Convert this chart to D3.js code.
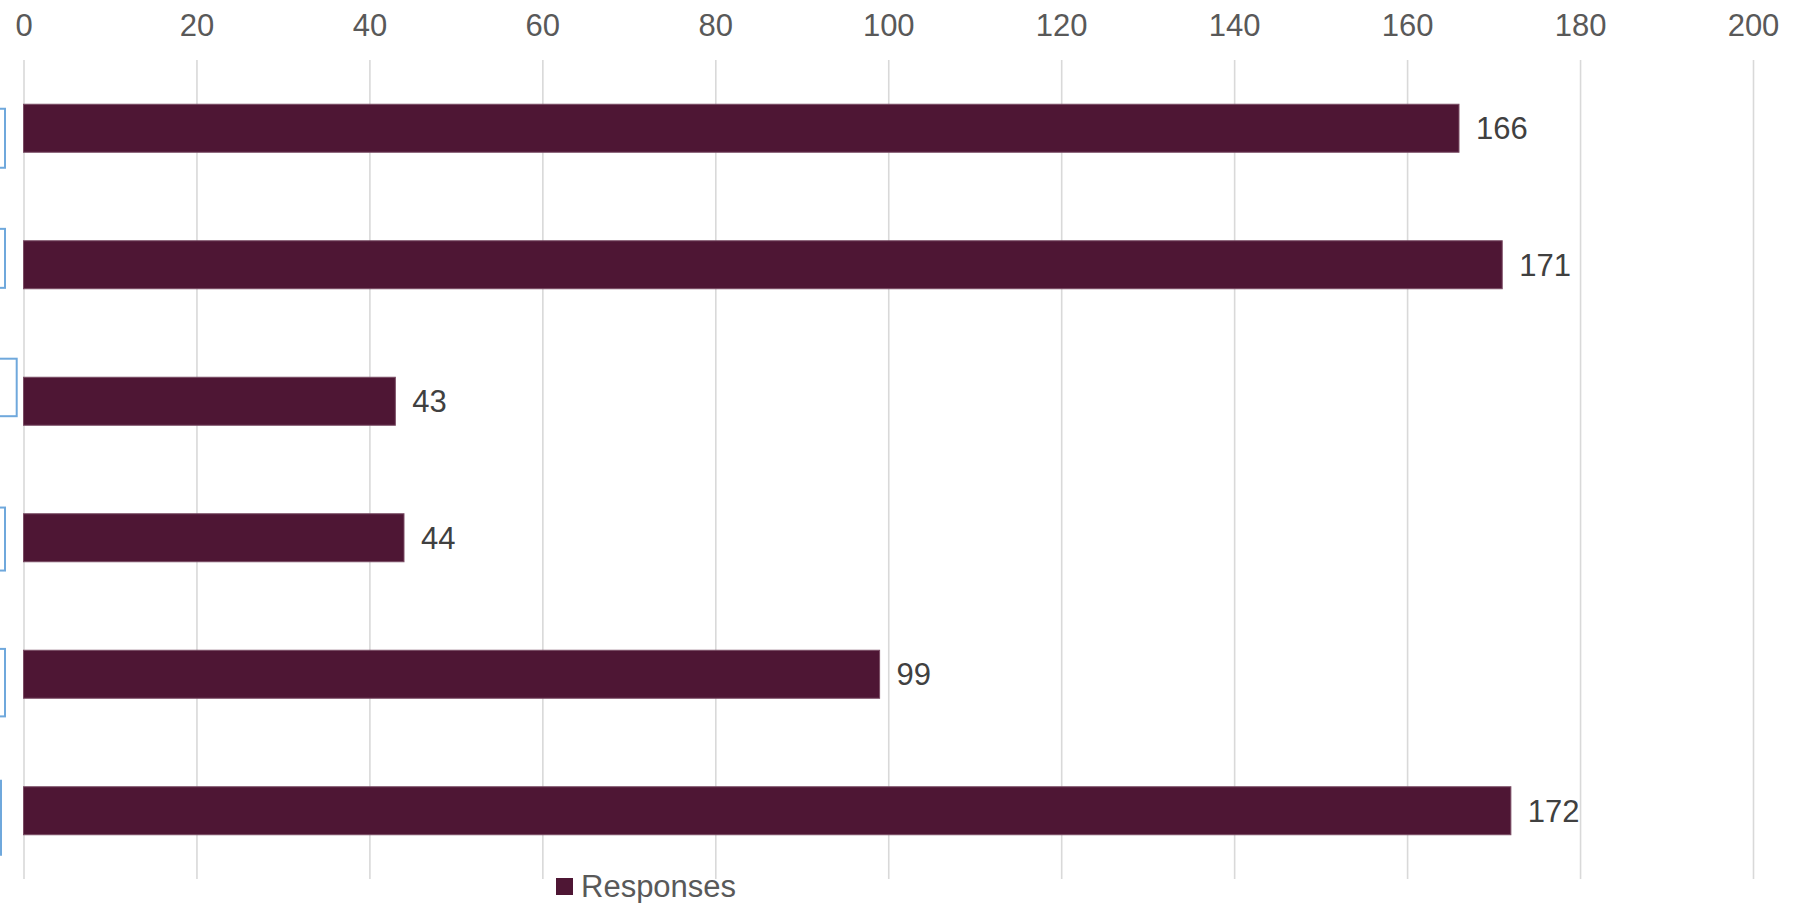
<!DOCTYPE html>
<html>
<head>
<meta charset="utf-8">
<script src="https://cdn.jsdelivr.net/npm/d3@7"></script>
<style>
  html, body { margin: 0; padding: 0; background: #ffffff; }
  svg { display: block; }
  text { font-family: "Liberation Sans", Arial, Helvetica, sans-serif; }
</style>
</head>
<body>
<svg id="chart" width="1809" height="903"></svg>
<script>
// ---- data ----
const categories = ["c1", "c2", "c3", "c4", "c5", "c6"];
const responses = [166, 171, 43, 44, 99, 172];
const tickValues = [0, 20, 40, 60, 80, 100, 120, 140, 160, 180, 200];
const seriesName = "Responses";
// category label boxes are clipped at the left edge in the reference (text not visible)
const labelBoxRight = [5, 5, 16.7, 5, 5, 1];
const labelBoxHeight = [59, 59, 57.5, 63, 67.5, 74];
const labelBoxShift = [10, -6.4, -13.8, 1.3, 8.4, 7];

const svg = d3.select("#chart");
const plotTop = 60, plotBottom = 879;

const x = d3.scaleLinear().domain([0, 200]).range([23.5, 1753]);
const y = d3.scaleBand().domain(categories).range([plotTop, plotBottom])
  .paddingInner(0.6484).paddingOuter(0.3242).align(0.5);

// axis with gridlines
const axis = d3.axisTop(x).tickValues(tickValues).tickSize(-(plotBottom - plotTop)).tickPadding(24)
  .tickFormat(d3.format("d"));
const gAxis = svg.append("g").attr("transform", `translate(0,${plotTop})`).call(axis);
gAxis.select(".domain").remove();
gAxis.selectAll(".tick line").attr("stroke", "#d9d9d9").attr("stroke-width", 1.6);
gAxis.selectAll(".tick text").attr("fill", "#595959").attr("font-size", 31)
  .attr("font-family", "'Liberation Sans', Arial, sans-serif");

// clipped label boxes on left
svg.append("g").selectAll("rect").data(categories).join("rect")
  .attr("x", (d, i) => labelBoxRight[i] - 200)
  .attr("y", (d, i) => y(d) + y.bandwidth() / 2 - labelBoxHeight[i] / 2 + labelBoxShift[i])
  .attr("width", 200)
  .attr("height", (d, i) => labelBoxHeight[i])
  .attr("fill", "none")
  .attr("stroke", "#6fa8dc")
  .attr("stroke-width", 2);

// bars
svg.append("g").selectAll("rect").data(categories).join("rect")
  .attr("x", x(0))
  .attr("y", d => y(d))
  .attr("width", (d, i) => x(responses[i]) - x(0))
  .attr("height", y.bandwidth())
  .attr("fill", "#4e1634")
  .attr("stroke", "#7a4c64")
  .attr("stroke-width", 1);

// data labels
svg.append("g").selectAll("text").data(categories).join("text")
  .attr("x", (d, i) => x(responses[i]) + 17)
  .attr("y", d => y(d) + y.bandwidth() / 2)
  .attr("dy", "0.36em")
  .attr("fill", "#404040")
  .attr("font-size", 31)
  .text((d, i) => responses[i]);

// legend
const lg = svg.append("g").attr("transform", "translate(556,878)");
lg.append("rect").attr("width", 17).attr("height", 17).attr("fill", "#4e1634");
lg.append("text").attr("x", 25).attr("y", 19).attr("fill", "#595959").attr("font-size", 31).text(seriesName);
</script>
</body>
</html>
